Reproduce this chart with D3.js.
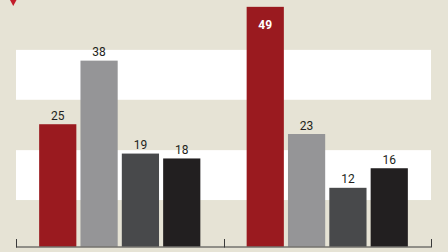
<!DOCTYPE html>
<html>
<head>
<meta charset="utf-8">
<script src="https://cdn.jsdelivr.net/npm/d3@7"></script>
<style>
  body { margin: 0; background: #e6e3d5; }
  svg { display: block; }
  text { font-family: Roboto, "DejaVu Sans Condensed", sans-serif; }
</style>
</head>
<body>
<div id="chart"></div>
<script>
// Data
var groups = ["A", "B"];
var seriesNames = ["s1", "s2", "s3", "s4"];
var groupValues = [
  [25, 38, 19, 18],
  [49, 23, 12, 16]
];
// background band edges (value units)
var bandEdges = [[30, 40.2], [9.5, 19.7]];

// svg container
var svgWidth = 448;
var svgHeight = 252;

var colors = ["#9a1a1f", "#959597", "#48494b", "#221f20"];

var svg = d3.select("#chart").append("svg")
  .attr("width", svgWidth)
  .attr("height", svgHeight);

svg.append("rect")
  .attr("width", svgWidth)
  .attr("height", svgHeight)
  .attr("fill", "#e6e3d5");

// scales
var x0 = d3.scaleBand()
  .domain(groups)
  .range([16, 431])
  .padding(0);

var x1 = d3.scaleBand()
  .domain(seriesNames)
  .range([0, x0.bandwidth()])
  .paddingInner(0.1)
  .paddingOuter(0.56);

var y = d3.scaleLinear()
  .domain([0, 50])
  .range([246.5, 1.95]);

// white bands
svg.selectAll(".band")
  .data(bandEdges)
  .enter()
  .append("rect")
  .attr("class", "band")
  .attr("x", 16)
  .attr("width", 431 - 16)
  .attr("y", function(d) { return y(d[1]); })
  .attr("height", function(d) { return y(d[0]) - y(d[1]); })
  .attr("fill", "#ffffff");

// little marker top-left
svg.append("path")
  .attr("d", "M10,0 L16.5,0 L13.25,6 Z")
  .attr("fill", "#c21d2a");

// bars
var groupG = svg.selectAll(".group")
  .data(groups)
  .enter()
  .append("g")
  .attr("class", "group")
  .attr("transform", function(d) { return "translate(" + x0(d) + ",0)"; });

groupG.selectAll("rect")
  .data(function(d, i) {
    return groupValues[i].map(function(v, j) { return {key: seriesNames[j], value: v, gi: i, si: j}; });
  })
  .enter()
  .append("rect")
  .attr("x", function(d) { return x1(d.key); })
  .attr("width", x1.bandwidth())
  .attr("y", function(d) { return y(d.value); })
  .attr("height", function(d) { return y(0) - y(d.value); })
  .attr("fill", function(d) { return colors[d.si]; });

// value labels
groupG.selectAll("text")
  .data(function(d, i) {
    return groupValues[i].map(function(v, j) { return {key: seriesNames[j], value: v, gi: i, si: j}; });
  })
  .enter()
  .append("text")
  .attr("x", function(d) { return x1(d.key) + x1.bandwidth() / 2; })
  .attr("y", function(d) {
    return d.value > 45 ? y(d.value) + 22.5 : y(d.value) - 4.5;
  })
  .attr("text-anchor", "middle")
  .attr("font-size", "12px")
  .attr("font-weight", function(d) { return d.value > 45 ? "bold" : "normal"; })
  .attr("fill", function(d) { return d.value > 45 ? "#ffffff" : "#231f20"; })
  .text(function(d) { return d.value; });

// x axis
var axis = d3.axisBottom(x0)
  .tickSize(0)
  .tickFormat("");

var axisG = svg.append("g")
  .attr("transform", "translate(0," + y(0) + ")")
  .call(axis);
axisG.select(".domain").remove();

axisG.append("line")
  .attr("x1", 16).attr("x2", 431)
  .attr("y1", 0.5).attr("y2", 0.5)
  .attr("stroke", "#3a3a3a");

var tickPos = [x0.range()[0]].concat(groups.map(function(g) { return x0(g) + x0.bandwidth(); }));
axisG.selectAll(".sep")
  .data(tickPos)
  .enter()
  .append("line")
  .attr("x1", function(d) { return Math.round(d) + 0.5; })
  .attr("x2", function(d) { return Math.round(d) + 0.5; })
  .attr("y1", -7.5)
  .attr("y2", 1)
  .attr("stroke", "#3a3a3a");
</script>
</body>
</html>
